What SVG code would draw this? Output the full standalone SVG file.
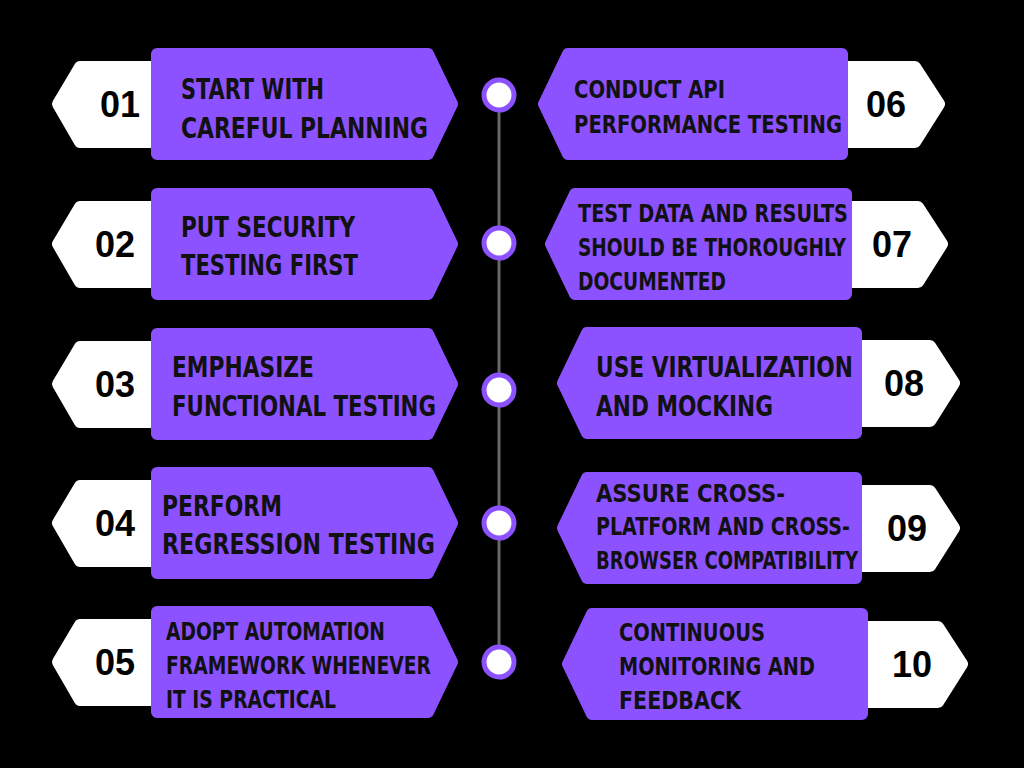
<svg xmlns="http://www.w3.org/2000/svg" width="1024" height="768" viewBox="0 0 1024 768">
<style>
.p{fill:#8c52ff;stroke:#8c52ff;stroke-width:12;stroke-linejoin:round}
.w{fill:#fff;stroke:#fff;stroke-width:12;stroke-linejoin:round}
.t{font-family:"DejaVu Sans Condensed","DejaVu Sans",sans-serif;font-weight:bold;fill:#111;font-size:29px}
.s{font-size:25px}
.n{font-family:"Liberation Sans",Arial,sans-serif;font-weight:bold;fill:#000;font-size:36px;text-anchor:middle}
.dot{fill:#fff;stroke:#8c52ff;stroke-width:5}
</style>
<rect width="1024" height="768" fill="#000"/>
<g id="connectors">
<line x1="499" y1="95" x2="499" y2="662" stroke="#666" stroke-width="3"/>
<circle class="dot" cx="499" cy="95" r="15"/>
<circle class="dot" cx="499" cy="243" r="15"/>
<circle class="dot" cx="499" cy="390" r="15"/>
<circle class="dot" cx="499" cy="523" r="15"/>
<circle class="dot" cx="499" cy="662" r="15"/>
</g>
<g id="n01">
<polygon class="w" points="152,67 80,67 58,104 80,142 152,142"/>
<polygon class="p" points="157,54 428,54 452,104 428,154 157,154"/>
<text class="n" x="120" y="117">01</text>
<text class="t" x="181" y="99" textLength="143" lengthAdjust="spacingAndGlyphs">START WITH</text>
<text class="t" x="181" y="138" textLength="247" lengthAdjust="spacingAndGlyphs">CAREFUL PLANNING</text>
</g>
<g id="n02" transform="translate(0,140)">
<polygon class="w" points="152,67 80,67 58,104 80,142 152,142"/>
<polygon class="p" points="157,54 428,54 452,104 428,154 157,154"/>
<text class="n" x="115" y="117">02</text>
<text class="t" x="181" y="97" textLength="174" lengthAdjust="spacingAndGlyphs">PUT SECURITY</text>
<text class="t" x="181" y="135" textLength="177" lengthAdjust="spacingAndGlyphs">TESTING FIRST</text>
</g>
<g id="n03" transform="translate(0,280)">
<polygon class="w" points="152,67 80,67 58,104 80,142 152,142"/>
<polygon class="p" points="157,54 428,54 452,104 428,154 157,154"/>
<text class="n" x="115" y="117">03</text>
<text class="t" x="172" y="97" textLength="142" lengthAdjust="spacingAndGlyphs">EMPHASIZE</text>
<text class="t" x="172" y="136" textLength="264" lengthAdjust="spacingAndGlyphs">FUNCTIONAL TESTING</text>
</g>
<g id="n04" transform="translate(0,419)">
<polygon class="w" points="152,67 80,67 58,104 80,142 152,142"/>
<polygon class="p" points="157,54 428,54 452,104 428,154 157,154"/>
<text class="n" x="115" y="117">04</text>
<text class="t" x="162" y="97" textLength="120" lengthAdjust="spacingAndGlyphs">PERFORM</text>
<text class="t" x="162" y="135" textLength="273" lengthAdjust="spacingAndGlyphs">REGRESSION TESTING</text>
</g>
<g id="n05" transform="translate(0,558)">
<polygon class="w" points="152,67 80,67 58,104 80,142 152,142"/>
<polygon class="p" points="157,54 428,54 452,104 428,154 157,154"/>
<text class="n" x="115" y="117">05</text>
<text class="t s" x="166" y="82" textLength="219" lengthAdjust="spacingAndGlyphs">ADOPT AUTOMATION</text>
<text class="t s" x="166" y="116" textLength="265" lengthAdjust="spacingAndGlyphs">FRAMEWORK WHENEVER</text>
<text class="t s" x="166" y="150" textLength="170" lengthAdjust="spacingAndGlyphs">IT IS PRACTICAL</text>
</g>
<g id="n06">
<polygon class="w" points="845,67 915,67 939,104 915,142 845,142"/>
<polygon class="p" points="568,54 842,54 842,154 568,154 544,104"/>
<text class="n" x="886" y="117">06</text>
<text class="t s" x="574" y="98" textLength="151" lengthAdjust="spacingAndGlyphs">CONDUCT API</text>
<text class="t s" x="574" y="133" textLength="268" lengthAdjust="spacingAndGlyphs">PERFORMANCE TESTING</text>
</g>
<g id="n07">
<polygon class="w" points="850,207 918,207 942,244 918,282 850,282"/>
<polygon class="p" points="575,194 846,194 846,294 575,294 551,244"/>
<text class="n" x="892" y="257">07</text>
<text class="t s" x="578" y="222" textLength="270" lengthAdjust="spacingAndGlyphs">TEST DATA AND RESULTS</text>
<text class="t s" x="578" y="256" textLength="268" lengthAdjust="spacingAndGlyphs">SHOULD BE THOROUGHLY</text>
<text class="t s" x="578" y="290" textLength="148" lengthAdjust="spacingAndGlyphs">DOCUMENTED</text>
</g>
<g id="n08">
<polygon class="w" points="860,346 930,346 954,383 930,421 860,421"/>
<polygon class="p" points="587,333 856,333 856,433 587,433 563,383"/>
<text class="n" x="904" y="396">08</text>
<text class="t" x="596" y="377" textLength="257" lengthAdjust="spacingAndGlyphs">USE VIRTUALIZATION</text>
<text class="t" x="596" y="416" textLength="177" lengthAdjust="spacingAndGlyphs">AND MOCKING</text>
</g>
<g id="n09">
<polygon class="w" points="860,491 930,491 954,528 930,566 860,566"/>
<polygon class="p" points="587,478 856,478 856,578 587,578 563,528"/>
<text class="n" x="907" y="541">09</text>
<text class="t s" x="596" y="502" textLength="189" lengthAdjust="spacingAndGlyphs">ASSURE CROSS-</text>
<text class="t s" x="596" y="535" textLength="254" lengthAdjust="spacingAndGlyphs">PLATFORM AND CROSS-</text>
<text class="t s" x="596" y="569" textLength="262" lengthAdjust="spacingAndGlyphs">BROWSER COMPATIBILITY</text>
</g>
<g id="n10">
<polygon class="w" points="865,627 938,627 962,664 938,702 865,702"/>
<polygon class="p" points="592,614 862,614 862,714 592,714 568,664"/>
<text class="n" x="912" y="677">10</text>
<text class="t s" x="619" y="641" textLength="146" lengthAdjust="spacingAndGlyphs">CONTINUOUS</text>
<text class="t s" x="619" y="675" textLength="196" lengthAdjust="spacingAndGlyphs">MONITORING AND</text>
<text class="t s" x="619" y="709" textLength="122" lengthAdjust="spacingAndGlyphs">FEEDBACK</text>
</g>
</svg>
